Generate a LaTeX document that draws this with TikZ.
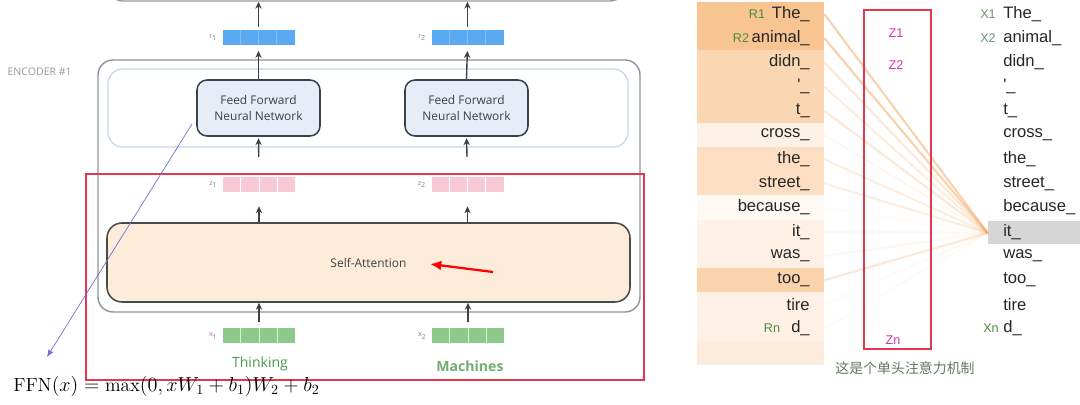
\documentclass[tikz,border=0pt]{standalone}
\usepackage{fontspec}
\usepackage{amsmath}
\usetikzlibrary{arrows.meta,calc}

\newfontfamily\diagfont{Open Sans}
\newfontfamily\wordfont{Liberation Sans}
\newfontfamily\cjkfont{Noto Sans CJK SC}

\definecolor{decgrey}{HTML}{9A9A9A}
\definecolor{encgrey}{HTML}{8D9399}
\definecolor{layerblue}{HTML}{C4D6E8}
\definecolor{ffnfill}{HTML}{E4EDF8}
\definecolor{ffndraw}{HTML}{3B414B}
\definecolor{safill}{HTML}{FDECD9}
\definecolor{sadraw}{HTML}{4A4A4A}
\definecolor{vecblue}{HTML}{5AAAF2}
\definecolor{vecpink}{HTML}{F7C9D5}
\definecolor{vecgreen}{HTML}{8EC98C}
\definecolor{textgreen}{HTML}{4C9A4C}
\definecolor{framered}{HTML}{E5364F}
\definecolor{arrowgrey}{HTML}{404040}
\definecolor{attorange}{HTML}{F3A35C}
\definecolor{zmag}{HTML}{E0359B}
\definecolor{rgreen}{HTML}{4C8C3C}
\definecolor{xgreen}{HTML}{6A9470}
\definecolor{cjkgrey}{HTML}{5E7A60}
\definecolor{itgrey}{HTML}{D6D6D6}
\definecolor{notepurple}{HTML}{7070D8}
% word rows
\definecolor{rowA}{HTML}{F8C491}
\definecolor{rowB}{HTML}{FBD6B2}
\definecolor{rowC}{HTML}{FCDFC3}
\definecolor{rowD}{HTML}{FAD3AC}
\definecolor{rowE}{HTML}{FEF0E4}
\definecolor{rowF}{HTML}{FDF0E5}
\definecolor{rowW}{HTML}{FFF9F3}
\definecolor{rowZ}{HTML}{FDEBDC}

\tikzset{
  uparrow/.style={draw=arrowgrey, line width=1pt, -{Stealth[length=5pt,width=4.5pt]}},
  vecbox/.style={minimum width=72*0.025cm, minimum height=15*0.025cm, inner sep=0pt},
  veclabel/.style={font=\diagfont\fontsize{5}{6}\selectfont, text=gray, anchor=east, inner sep=0pt},
  ffnbox/.style={draw=ffndraw, fill=ffnfill, line width=1.1pt, rounded corners=0.25cm,
    minimum width=123*0.025cm, minimum height=56*0.025cm, align=center,
    font=\diagfont\fontsize{8.5}{11.4}\selectfont, text=black!75},
  wordrow/.style={minimum width=127*0.025cm, minimum height=24.2*0.025cm, inner sep=0pt},
  word/.style={font=\wordfont\fontsize{11.8}{13}\selectfont, text=black!85, inner sep=0pt},
  tag/.style={font=\wordfont\fontsize{9}{11}\selectfont, inner sep=0pt},
  attline/.style={draw=attorange, line width=1.5pt},
}

\newcommand{\vecsplit}[2]{%
  \foreach \k in {1,2,3}
    \draw[#2, line width=0.6pt] ($(#1.north west)!\k/4!(#1.north east)$) -- ($(#1.south west)!\k/4!(#1.south east)$);}

\begin{document}
\begin{tikzpicture}[x=0.025cm, y=-0.025cm]

% ukuran sudut
\def\rc{0.375cm}

\useasboundingbox (0,0) rectangle (1080,405);

% --- encoder ---
\node[draw=decgrey, line width=1pt, rounded corners=\rc, minimum width=517*0.025cm, minimum height=31*0.025cm] (decbox) at (366.5,-14.5) {};
\node[draw=encgrey, line width=1pt, rounded corners=\rc, minimum width=542*0.025cm, minimum height=252*0.025cm] (encbox) at (369,186) {};
\node[draw=layerblue, line width=0.9pt, rounded corners=\rc, minimum width=520*0.025cm, minimum height=78*0.025cm] (ffnlayer) at (368,108) {};
\node[font=\diagfont\fontsize{7.5}{9}\selectfont, text=gray!80, anchor=east, inner sep=0pt] (enclabel) at (72,72) {ENCODER \#1};

\node[ffnbox] (ffnA) at (258.5,108) {Feed Forward\\Neural Network};
\node[ffnbox] (ffnB) at (466.5,108) {Feed Forward\\Neural Network};

\node[draw=sadraw, fill=safill, line width=1.1pt, rounded corners=\rc, minimum width=523*0.025cm, minimum height=79*0.025cm,
  font=\diagfont\fontsize{8.5}{10}\selectfont, text=black!75] (saBox) at (368.5,262.5) {Self-Attention};

% --- vectors ---
\node[vecbox, fill=vecblue] (r1) at (258.5,37.5) {};
\node[vecbox, fill=vecblue] (r2) at (467.5,37.5) {};
\node[vecbox, fill=vecpink] (z1v) at (259,184.5) {};
\node[vecbox, fill=vecpink] (z2v) at (467.5,184.5) {};
\node[vecbox, fill=vecgreen] (x1v) at (259,336) {};
\node[vecbox, fill=vecgreen] (x2v) at (468,336) {};
\vecsplit{r1}{vecblue!75!white}
\vecsplit{r2}{vecblue!75!white}
\vecsplit{z1v}{white}
\vecsplit{z2v}{white}
\vecsplit{x1v}{white!70!vecgreen}
\vecsplit{x2v}{white!70!vecgreen}

\node[veclabel] (r1lab) at ($(r1.west)+(-5,0)$) {r\textsubscript{1}};
\node[veclabel] (r2lab) at ($(r2.west)+(-5,0)$) {r\textsubscript{2}};
\node[veclabel] (z1lab) at ($(z1v.west)+(-5,0)$) {z\textsubscript{1}};
\node[veclabel] (z2lab) at ($(z2v.west)+(-5,0)$) {z\textsubscript{2}};
\node[veclabel] (x1lab) at ($(x1v.west)+(-5,0)$) {x\textsubscript{1}};
\node[veclabel] (x2lab) at ($(x2v.west)+(-5,0)$) {x\textsubscript{2}};

\node[font=\diagfont\fontsize{10}{12}\selectfont, text=textgreen] (think) at (260,364) {Thinking};
\node[font=\diagfont\bfseries\fontsize{10}{12}\selectfont, text=textgreen!80] (mach) at (470,366) {Machines};

% --- arrows ---
\foreach \v/\f/\z/\x in {r1/ffnA/z1v/x1v, r2/ffnB/z2v/x2v} {
  \draw[uparrow, shorten <=2pt] (\v.north) -- (\v |- decbox.south);
  \draw[uparrow, shorten >=4pt] (\f.north) -- (\v.south);
  \draw[uparrow, shorten <=14pt, shorten >=1pt] (\z.north) -- (\f.south);
  \draw[uparrow] (\z |- saBox.north) -- ($(\z.south)+(0,14)$);
  \draw[uparrow] ($(\x.north)+(0,-6)$) -- (\x |- saBox.south);
}

% --- catatan ---
\node[draw=framered, line width=1pt, minimum width=558*0.025cm, minimum height=206*0.025cm] (redframe) at (365,277) {};
\coordinate (noteA) at (192,124);
\coordinate (noteB) at (47,357);
\draw[notepurple, line width=0.5pt, -{Latex[length=5pt,width=4pt]}] (noteA) -- (noteB);
\coordinate (penA) at (493,272);
\coordinate (penB) at (430,264);
\draw[red, line width=1.6pt, -{Latex[length=8pt,width=7pt]}] (penA) -- (penB);

\node[anchor=west, inner sep=0pt] (ffnformula) at (13,386) {\fontsize{13.6}{16}\selectfont $\mathrm{FFN}(x)=\max(0,xW_1+b_1)W_2+b_2$};

% --- attention ---
\node[fill=itgrey, minimum width=92*0.025cm, minimum height=23*0.025cm, inner sep=0pt] (itbg) at (1034,233) {};
\node[wordrow, fill=rowZ] (L15) at (760.5,352.8) {};

\foreach \i/\w/\c/\a in {1/The\_/rowA/0.5, 2/animal\_/rowA/0.5, 3/didn\_/rowB/0.25, 4/'\_/rowB/0.2,
  5/t\_/rowB/0.25, 6/cross\_/rowF/0.08, 7/the\_/rowC/0.2, 8/street\_/rowC/0.2, 9/because\_/rowW/0.04,
  10/it\_/rowE/0.08, 11/was\_/rowE/0.08, 12/too\_/rowD/0.25, 13/tire/rowE/0.06, 14/d\_/rowE/0.06} {
  \pgfmathsetmacro\y{14+(\i-1)*24.2}
  \node[wordrow, fill=\c] (L\i) at (760.5,\y) {};
  \node[word, anchor=east] (Lw\i) at (810,\y) {\w};
  \node[word, anchor=west] (Rw\i) at (1003,\y) {\w};
  \draw[attline, draw opacity=\a] (L\i.east) -- (itbg.west);
}

\node[tag, text=rgreen] (R1) at (757,14) {R1};
\node[tag, text=rgreen] (R2) at (741,38.2) {R2};
\node[tag, text=rgreen] (Rn) at (772,328.6) {Rn};
\node[tag, text=xgreen] (X1) at (988,14) {X1};
\node[tag, text=xgreen] (X2) at (988,38.2) {X2};
\node[tag, text=rgreen] (Xn) at (991,328.6) {Xn};

\node[draw=framered, line width=1pt, minimum width=67*0.025cm, minimum height=339*0.025cm] (zframe) at (897.5,179.5) {};
\node[tag, text=zmag] (Z1) at (896,33) {Z1};
\node[tag, text=zmag] (Z2) at (896,65) {Z2};
\node[tag, text=zmag] (Zn) at (893,340) {Zn};

\node[font=\cjkfont\fontsize{9.9}{12}\selectfont, text=cjkgrey] (cjknote) at (905,368) {这是个单头注意力机制};

\end{tikzpicture}
\end{document}
